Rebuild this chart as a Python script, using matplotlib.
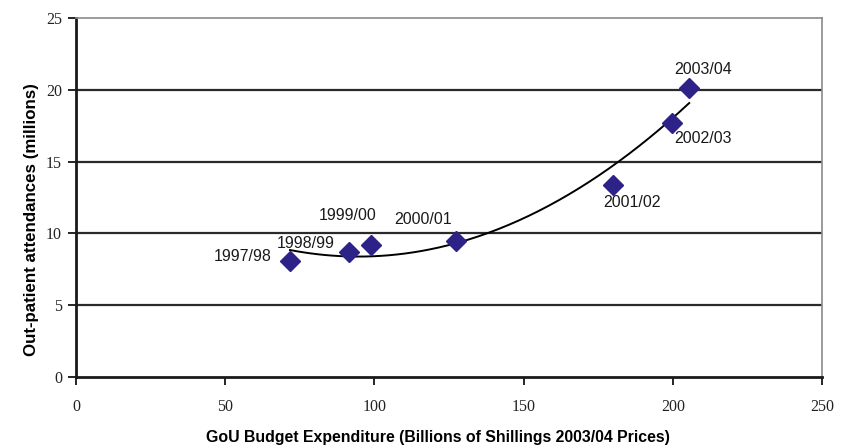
import numpy as np
import matplotlib
matplotlib.use("Agg")
import matplotlib.pyplot as plt

# Budget expenditure vs out-patient attendances by fiscal year
years = ["1997/98", "1998/99", "1999/00", "2000/01", "2001/02", "2002/03", "2003/04"]
expenditure = [71.7, 91.5, 98.9, 127.3, 179.8, 199.6, 205.5]
attendances = [8.1, 8.7, 9.2, 9.5, 13.4, 17.7, 20.1]

x_ticks = [0, 50, 100, 150, 200, 250]
y_ticks = [0, 5, 10, 15, 20, 25]

# label offsets (pixels) relative to each point
label_offsets = [(-18, 4), (-43, 9), (-23, 29), (-33, 21), (19, -18), (31, -16), (14, 19)]

W, H = 845, 448
fig = plt.figure(figsize=(W / 100, H / 100), dpi=100)
ax = fig.add_axes([76 / W, 1 - 377 / H, (822 - 76) / W, (377 - 18) / H])

ax.set_xlim(0, 250)
ax.set_ylim(0, 25)

for y in y_ticks[1:-1]:
    ax.axhline(y, color="#2a2a2a", lw=1.6, zorder=1)

# quadratic trend line
coef = np.polyfit(expenditure, attendances, 2)
xs = np.linspace(min(expenditure), max(expenditure), 200)
ax.plot(xs, np.polyval(coef, xs), color="black", lw=1.4, zorder=2)

ax.plot(expenditure, attendances, linestyle="none", marker="D", markersize=10.5,
        color="#2d2288", zorder=3)

for lab, xv, yv, (dx, dy) in zip(years, expenditure, attendances, label_offsets):
    ax.annotate(lab, (xv, yv), xytext=(dx, dy), textcoords="offset pixels",
                ha="right" if lab == "1997/98" else "center", va="center",
                fontsize=11.5, family="Liberation Sans", color="#1a1a1a")

ax.set_xticks(x_ticks)
ax.set_yticks(y_ticks)
ax.set_xticklabels([str(v) for v in x_ticks], family="Liberation Serif", fontsize=11.5, color="#222222")
ax.set_yticklabels([str(v) for v in y_ticks], family="Liberation Serif", fontsize=11.5, color="#222222")
ax.tick_params(axis="x", direction="out", length=6, width=1.2, pad=10)
ax.tick_params(axis="y", direction="out", length=6, width=1.2, pad=4)

for side in ["left", "bottom"]:
    ax.spines[side].set_linewidth(2.0)
    ax.spines[side].set_color("#1a1a1a")
for side in ["top", "right"]:
    ax.spines[side].set_linewidth(1.2)
    ax.spines[side].set_color("#8a8a8a")

fig.text(438 / W, 1 - 437 / H, "GoU Budget Expenditure (Billions of Shillings 2003/04 Prices)",
         family="Liberation Sans", fontweight="bold", fontsize=11.4,
         ha="center", va="center")
fig.text(32 / W, 1 - 220 / H, "Out-patient attendances (millions)",
         family="Liberation Sans", fontweight="bold", fontsize=12.2,
         ha="center", va="center", rotation=90)

fig.savefig("out.png", dpi=100, facecolor="white")
